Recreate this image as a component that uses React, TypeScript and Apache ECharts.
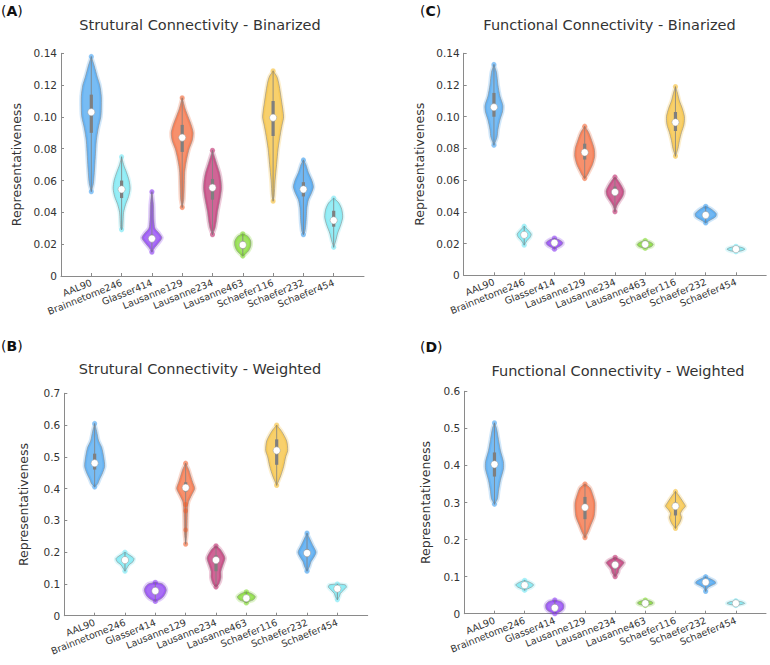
import React, { useEffect, useRef } from "react";
import * as echarts from "echarts";

const CATEGORIES = [
  "AAL90", "Brainnetome246", "Glasser414", "Lausanne129", "Lausanne234",
  "Lausanne463", "Schaefer116", "Schaefer232", "Schaefer454",
];
const COLORS = [
  "#2e97ef", "#5fe3f1", "#7a1ff0", "#f2541d", "#b5125c",
  "#6cd30f", "#f4b61c", "#2390ec", "#5fe3f1",
];

// Violin profiles: [value, density] pairs (density in px-equivalent half-width at unit spacing)
const shapeA = [
  [[0.138, 0], [0.132, 3], [0.125, 6], [0.12, 8.5], [0.113, 10], [0.105, 10], [0.1, 9.5], [0.093, 7], [0.085, 5], [0.075, 4], [0.065, 3], [0.058, 2], [0.053, 0]],
  [[0.075, 0], [0.07, 2], [0.065, 5], [0.06, 7.5], [0.055, 8.5], [0.05, 7], [0.045, 4], [0.04, 2], [0.035, 1.5], [0.03, 1], [0.029, 0]],
  [[0.053, 0], [0.045, 1.5], [0.035, 2], [0.03, 3], [0.027, 7], [0.024, 10], [0.021, 7], [0.018, 3], [0.015, 0]],
  [[0.112, 0], [0.105, 3], [0.1, 6], [0.095, 9], [0.09, 11], [0.085, 10], [0.08, 7], [0.075, 5], [0.07, 3.5], [0.065, 2.5], [0.055, 2], [0.048, 1.5], [0.043, 0]],
  [[0.079, 0], [0.075, 2], [0.07, 4.5], [0.065, 7], [0.06, 8.5], [0.055, 9], [0.05, 8], [0.045, 6.5], [0.04, 5], [0.035, 4], [0.03, 2.5], [0.026, 0]],
  [[0.0265, 0], [0.025, 5], [0.022, 8], [0.019, 8], [0.016, 6], [0.014, 3], [0.0125, 0]],
  [[0.129, 0], [0.125, 4], [0.12, 6], [0.11, 8.5], [0.1, 10.5], [0.095, 9], [0.09, 7.5], [0.08, 5], [0.07, 3.5], [0.06, 2], [0.05, 1], [0.047, 0]],
  [[0.073, 0], [0.07, 2.5], [0.065, 5], [0.06, 8.5], [0.056, 10], [0.052, 8], [0.048, 5], [0.043, 3.5], [0.038, 3], [0.033, 2.5], [0.028, 1.5], [0.026, 0]],
  [[0.049, 0], [0.046, 5], [0.042, 8], [0.037, 9], [0.032, 7], [0.027, 4], [0.022, 2], [0.018, 0]],
];
const medianA = [0.103, 0.0545, 0.0235, 0.087, 0.0555, 0.0195, 0.0995, 0.0545, 0.035];
const q1A = [0.09, 0.049, 0.022, 0.078, 0.048, 0.017, 0.088, 0.05, 0.031];
const q3A = [0.114, 0.06, 0.026, 0.095, 0.061, 0.022, 0.11, 0.059, 0.041];

const shapeC = [
  [[0.133, 0], [0.128, 2.5], [0.12, 4], [0.113, 6], [0.107, 9], [0.103, 8.5], [0.098, 6], [0.092, 4], [0.087, 3], [0.082, 0]],
  [[0.031, 0], [0.029, 3], [0.026, 7], [0.024, 6], [0.022, 3], [0.019, 0]],
  [[0.0235, 0], [0.022, 6], [0.0205, 8.5], [0.019, 7], [0.0175, 3], [0.0165, 0]],
  [[0.094, 0], [0.09, 4], [0.085, 7], [0.08, 9.5], [0.075, 10], [0.07, 8], [0.066, 5], [0.063, 2.5], [0.061, 0]],
  [[0.062, 0], [0.06, 3], [0.056, 7], [0.053, 9], [0.05, 8], [0.047, 5], [0.044, 2], [0.04, 0]],
  [[0.022, 0], [0.021, 5], [0.0195, 8], [0.018, 6], [0.017, 0]],
  [[0.119, 0], [0.115, 2], [0.11, 4], [0.105, 7], [0.1, 9], [0.095, 8.5], [0.09, 6], [0.085, 4], [0.08, 2.5], [0.075, 0]],
  [[0.0435, 0], [0.042, 5], [0.039, 10.5], [0.037, 10], [0.035, 5], [0.033, 0]],
  [[0.0183, 0], [0.0175, 6], [0.0165, 9], [0.0155, 6], [0.0148, 0]],
];
const medianC = [0.106, 0.0255, 0.0205, 0.0775, 0.0525, 0.0195, 0.0965, 0.038, 0.0165];
const q1C = [0.1, 0.024, 0.0198, 0.073, 0.05, 0.0188, 0.091, 0.0372, 0.016];
const q3C = [0.115, 0.027, 0.0212, 0.083, 0.056, 0.0202, 0.103, 0.0392, 0.017];

const shapeB = [
  [[0.605, 0], [0.58, 2], [0.55, 4], [0.53, 7], [0.5, 9], [0.47, 10], [0.45, 8], [0.43, 5], [0.415, 3], [0.405, 0]],
  [[0.2, 0], [0.19, 5], [0.18, 9], [0.17, 8], [0.16, 4], [0.15, 2], [0.14, 0]],
  [[0.105, 0], [0.1, 7], [0.09, 10], [0.08, 11], [0.07, 10], [0.06, 8], [0.05, 4], [0.045, 0]],
  [[0.48, 0], [0.46, 3], [0.44, 5], [0.42, 7], [0.4, 9], [0.38, 6], [0.36, 3], [0.34, 2], [0.3, 1.5], [0.26, 1.2], [0.225, 0]],
  [[0.22, 0], [0.21, 4], [0.19, 8], [0.18, 9], [0.16, 7], [0.14, 5], [0.12, 5], [0.1, 3], [0.09, 0]],
  [[0.075, 0], [0.07, 5], [0.06, 9], [0.05, 7], [0.045, 3], [0.04, 0]],
  [[0.6, 0], [0.58, 5], [0.55, 10], [0.52, 11], [0.5, 9], [0.47, 7], [0.44, 4], [0.41, 0]],
  [[0.26, 0], [0.24, 3], [0.22, 6], [0.2, 9], [0.185, 7], [0.17, 4], [0.155, 2.5], [0.14, 0]],
  [[0.1, 0], [0.097, 8], [0.09, 9], [0.08, 6], [0.07, 3], [0.06, 2], [0.05, 0]],
];
const medianB = [0.48, 0.175, 0.078, 0.403, 0.175, 0.055, 0.52, 0.197, 0.085];
const q1B = [0.46, 0.165, 0.07, 0.39, 0.14, 0.05, 0.475, 0.185, 0.075];
const q3B = [0.51, 0.185, 0.085, 0.42, 0.19, 0.06, 0.555, 0.21, 0.092];

const shapeD = [
  [[0.515, 0], [0.5, 2], [0.47, 4], [0.44, 6], [0.41, 9], [0.39, 9], [0.36, 6], [0.33, 4], [0.31, 3], [0.295, 0]],
  [[0.09, 0], [0.085, 5], [0.078, 9], [0.072, 7], [0.067, 3], [0.063, 0]],
  [[0.037, 0], [0.033, 6], [0.025, 9], [0.015, 9], [0.008, 7], [0.002, 3], [0, 0]],
  [[0.35, 0], [0.34, 5], [0.32, 8], [0.3, 10], [0.28, 10], [0.26, 9], [0.24, 6], [0.22, 3], [0.205, 0]],
  [[0.152, 0], [0.145, 6], [0.138, 9], [0.13, 7], [0.12, 4], [0.11, 3], [0.1, 0]],
  [[0.037, 0], [0.034, 5], [0.029, 8], [0.025, 6], [0.022, 0]],
  [[0.33, 0], [0.32, 3], [0.3, 8], [0.29, 10], [0.28, 7], [0.27, 5], [0.26, 6], [0.25, 5], [0.24, 3], [0.23, 0]],
  [[0.1, 0], [0.095, 4], [0.088, 9], [0.082, 10], [0.075, 5], [0.07, 2], [0.06, 0]],
  [[0.035, 0], [0.032, 6], [0.028, 9], [0.025, 6], [0.022, 0]],
];
const medianD = [0.403, 0.077, 0.016, 0.287, 0.132, 0.028, 0.29, 0.085, 0.028];
const q1D = [0.37, 0.072, 0.008, 0.255, 0.12, 0.026, 0.265, 0.08, 0.026];
const q3D = [0.435, 0.082, 0.025, 0.315, 0.14, 0.031, 0.3, 0.09, 0.031];

// Isolated dots [category index, value]
const extraDotsB = [[3, 0.27], [3, 0.33], [3, 0.35]];

const FONT = "DejaVu Sans";
const AXIS_COLOR = "#8a8a8a";
const TEXT_COLOR = "#333333";

function hexToRgba(hex: string, a: number) {
  const n = parseInt(hex.slice(1), 16);
  return `rgba(${(n >> 16) & 255},${(n >> 8) & 255},${n & 255},${a})`;
}

function makeRender(shapes: number[][][], med: number[], q1: number[], q3: number[]) {
  return (params: any, api: any) => {
    const i = params.dataIndex;
    const cx = i + 1;
    const shape = shapes[i];
    const color = COLORS[i];
    const unit = api.size([1, 0])[0];
    const k = unit / 30.4;
    const right = shape.map(([v, w]) => {
      const p = api.coord([cx, v]);
      return [p[0] + w * k, p[1]];
    });
    const left = shape
      .slice()
      .reverse()
      .map(([v, w]) => {
        const p = api.coord([cx, v]);
        return [p[0] - w * k, p[1]];
      });
    const pts = right.concat(left);
    const top = api.coord([cx, shape[0][0]]);
    const bot = api.coord([cx, shape[shape.length - 1][0]]);
    const pq1 = api.coord([cx, q1[i]]);
    const pq3 = api.coord([cx, q3[i]]);
    const pm = api.coord([cx, med[i]]);
    return {
      type: "group",
      children: [
        {
          type: "polygon",
          shape: { points: pts, smooth: 0.25 },
          style: { fill: color, stroke: color, lineWidth: 4, lineJoin: "round", opacity: 0.22 },
        },
        {
          type: "polygon",
          shape: { points: pts, smooth: 0.25 },
          style: { fill: hexToRgba(color, 0.55), stroke: "#8c8c8c", lineWidth: 0.6 },
        },
        {
          type: "circle",
          shape: { cx: top[0], cy: top[1], r: 2.6 },
          style: { fill: hexToRgba(color, 0.45) },
        },
        {
          type: "circle",
          shape: { cx: bot[0], cy: bot[1], r: 2.6 },
          style: { fill: hexToRgba(color, 0.45) },
        },
        {
          type: "line",
          shape: { x1: top[0], y1: top[1], x2: bot[0], y2: bot[1] },
          style: { stroke: "#808080", lineWidth: 0.8 },
        },
        {
          type: "rect",
          shape: { x: pq3[0] - 1.6, y: pq3[1], width: 3.2, height: pq1[1] - pq3[1] },
          style: { fill: "#7f7f7f" },
        },
        {
          type: "circle",
          shape: { cx: pm[0], cy: pm[1], r: 3.6 },
          style: { fill: "#ffffff", stroke: "#9a9a9a", lineWidth: 0.5 },
        },
      ],
    };
  };
}

const TICKS = [1, 2, 3, 4, 5, 6, 7, 8, 9];

function xAxisFor(gridIndex: number) {
  return {
    type: "value",
    gridIndex,
    min: 0,
    max: 10,
    axisLine: { show: true, lineStyle: { color: AXIS_COLOR, width: 1 } },
    axisTick: { show: true, inside: true, length: 3, customValues: TICKS, lineStyle: { color: AXIS_COLOR } },
    axisLabel: {
      customValues: TICKS,
      formatter: (v: number) => CATEGORIES[Math.round(v) - 1] || "",
      rotate: 22,
      fontSize: 9.5,
      fontFamily: FONT,
      color: TEXT_COLOR,
      margin: 6,
    },
    splitLine: { show: false },
  };
}

function yAxisFor(gridIndex: number, max: number, interval: number, digits: number, nameGap: number) {
  return {
    type: "value",
    gridIndex,
    min: 0,
    max,
    interval,
    name: "Representativeness",
    nameLocation: "middle",
    nameGap,
    nameTextStyle: { fontSize: 12.5, fontFamily: FONT, color: TEXT_COLOR },
    axisLine: { show: true, lineStyle: { color: AXIS_COLOR, width: 1 } },
    axisTick: { show: true, inside: true, length: 3, lineStyle: { color: AXIS_COLOR } },
    axisLabel: {
      formatter: (v: number) => (Math.abs(v) < 1e-9 ? "0" : v.toFixed(digits)),
      fontSize: 10.5,
      fontFamily: FONT,
      color: TEXT_COLOR,
      margin: 4,
    },
    splitLine: { show: false },
  };
}

const PANELS = [
  { shapes: shapeA, med: medianA, q1: q1A, q3: q3A },
  { shapes: shapeB, med: medianB, q1: q1B, q3: q3B },
  { shapes: shapeC, med: medianC, q1: q1C, q3: q3C },
  { shapes: shapeD, med: medianD, q1: q1D, q3: q3D },
];

function titleText(x: number, y: number, text: string) {
  return {
    type: "text",
    x,
    y,
    style: { text, font: `14.5px '${FONT}'`, fill: TEXT_COLOR, align: "center", verticalAlign: "middle" },
  };
}
function letterText(x: number, y: number, letter: string) {
  return {
    type: "text",
    x,
    y,
    style: {
      text: `{a|(}{b|${letter}}{a|)}`,
      verticalAlign: "middle",
      rich: {
        a: { fontSize: 14, fontFamily: FONT, fill: "#111" },
        b: { fontSize: 14, fontFamily: FONT, fontWeight: "bold", fill: "#111" },
      },
    },
  };
}

export default function App() {
  const ref = useRef<HTMLDivElement>(null);
  useEffect(() => {
    if (!ref.current) return;
    const chart = echarts.init(ref.current, null, { renderer: "svg" });
    const series: any[] = PANELS.map((p, gi) => ({
      type: "custom",
      xAxisIndex: gi,
      yAxisIndex: gi,
      renderItem: makeRender(p.shapes, p.med, p.q1, p.q3),
      encode: { x: 0, y: 1 },
      data: CATEGORIES.map((_, i) => [i + 1, p.med[i]]),
      clip: false,
    }));
    series.push({
      type: "scatter",
      xAxisIndex: 1,
      yAxisIndex: 1,
      symbolSize: 5,
      itemStyle: { color: hexToRgba(COLORS[3], 0.5) },
      data: extraDotsB.map(([c, v]) => [c + 1, v]),
    });
    chart.setOption({
      animation: false,
      backgroundColor: "#ffffff",
      grid: [
        { left: 61, top: 53.3, width: 303, height: 222.7 },
        { left: 64.3, top: 393.3, width: 303.4, height: 222.4 },
        { left: 463.7, top: 53.3, width: 302.5, height: 222 },
        { left: 464.3, top: 391.3, width: 301.7, height: 222.4 },
      ],
      xAxis: [xAxisFor(0), xAxisFor(1), xAxisFor(2), xAxisFor(3)],
      yAxis: [
        yAxisFor(0, 0.14, 0.02, 2, 38),
        yAxisFor(1, 0.7, 0.1, 1, 34),
        yAxisFor(2, 0.14, 0.02, 2, 38),
        yAxisFor(3, 0.6, 0.1, 1, 32),
      ],
      graphic: [
        titleText(200, 25, "Strutural Connectivity - Binarized"),
        titleText(200, 369, "Strutural Connectivity - Weighted"),
        titleText(609.5, 25, "Functional Connectivity - Binarized"),
        titleText(618, 370.5, "Functional Connectivity - Weighted"),
        letterText(1, 11, "A"),
        letterText(1, 346, "B"),
        letterText(420, 11, "C"),
        letterText(420, 347, "D"),
      ],
      series,
    });
    return () => chart.dispose();
  }, []);
  return (
    <div
      ref={ref}
      style={{ position: "absolute", left: 0, top: 0, width: 770, height: 665, background: "#fff" }}
    />
  );
}
